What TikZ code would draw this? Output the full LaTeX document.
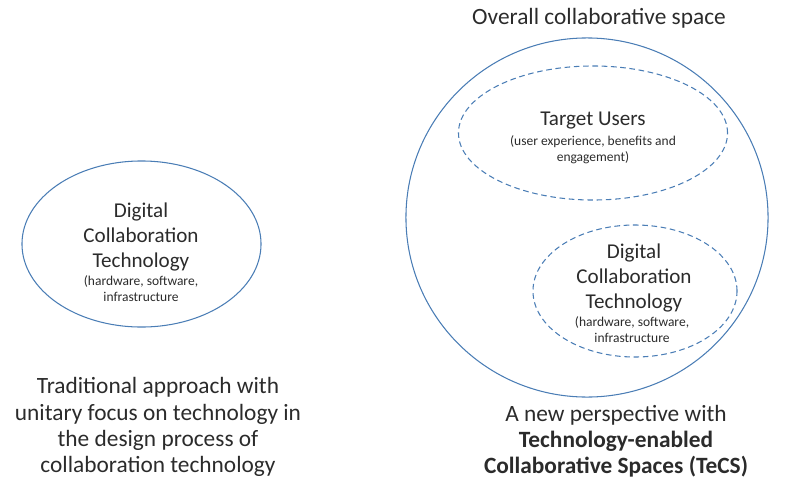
\documentclass[tikz,border=0pt]{standalone}
\usepackage{fontspec}
\setmainfont{Carlito}
\usepackage{xcolor}
\usetikzlibrary{shapes.geometric}
\definecolor{lineblue}{HTML}{4A7DB5}
\definecolor{textgray}{HTML}{2B2B2B}

\begin{document}
\begin{tikzpicture}[x=0.025cm, y=-0.025cm, text=textgray]
    % Define styles
    \tikzstyle{space} = [ellipse, draw=lineblue, line width=0.75pt, inner sep=0pt]
    \tikzstyle{zone} = [space, dashed, dash pattern=on 4pt off 2.6pt]
    \tikzstyle{title} = [align=center, font=\fontsize{15}{18}\selectfont]
    \tikzstyle{detail} = [align=center, font=\fontsize{9.6}{11.4}\selectfont]
    \tikzstyle{caption} = [align=center, font=\fontsize{16.6}{18.6}\selectfont]

    \useasboundingbox (0,0) rectangle (790,487);

    % Nodes
    \node[space, minimum width=5.975cm, minimum height=4.15cm] (oldspace) at (141.5,244) {};
    \node[title] (olddct) at (141,237) {Digital\\Collaboration\\Technology};
    \node[detail] (oldhw) at (141,289) {(hardware, software,\\infrastructure};

    \node[space, minimum width=9.05cm, minimum height=8.975cm] (overall) at (587,217.5) {};
    \node[caption] (overalltitle) at (599,18) {Overall collaborative space};

    \node[zone, minimum width=6.725cm, minimum height=3.35cm] (users) at (593,133) {};
    \node[title] (userstitle) at (593,121) {Target Users};
    \node[detail] (usersdetail) at (593,150) {(user experience, benefits and\\engagement)};

    \node[zone, minimum width=5.1cm, minimum height=3.3cm] (tech) at (635,291) {};
    \node[title] (newdct) at (634,278) {Digital\\Collaboration\\Technology};
    \node[detail] (newhw) at (632,330) {(hardware, software,\\infrastructure};

    \node[caption] (oldcaption) at (158,427) {Traditional approach with\\unitary focus on technology in\\the design process of\\collaboration technology};
    \node[caption] (newcaption) at (616,441) {A new perspective with\\\textbf{Technology-enabled}\\\textbf{Collaborative Spaces (TeCS)}};
\end{tikzpicture}
\end{document}
